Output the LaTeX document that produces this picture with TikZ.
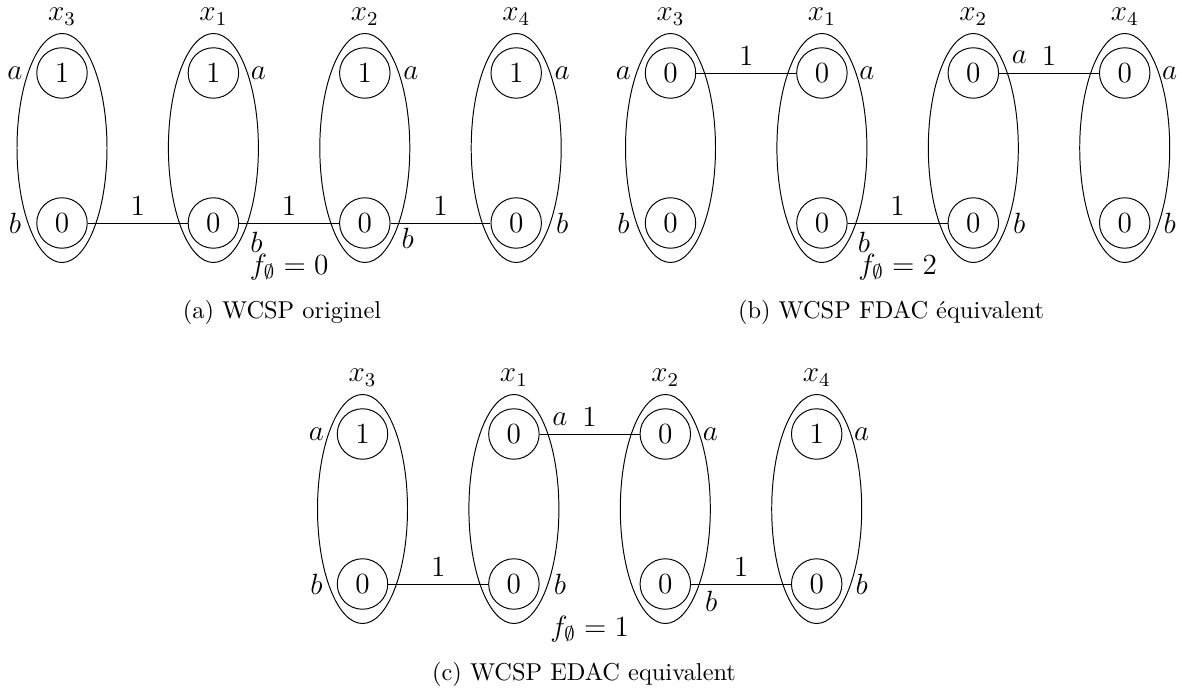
\documentclass[tikz,border=0pt]{standalone}
\usepackage{fontspec}
\usetikzlibrary{calc}
\usetikzlibrary{shapes.geometric}
\tikzset{
  dom/.style={draw, ellipse, minimum width=36.9pt, minimum height=93.9pt, inner sep=0pt},
  val/.style={draw, circle, minimum size=20.7pt, inner sep=0pt, font=\large},
  var/.style={above, font=\large, inner sep=3pt},
  lab/.style={font=\large, inner sep=0pt},
  cost/.style={above, font=\large, inner sep=3pt},
  subcap/.style={font=\normalsize}
}

\begin{document}
\begin{tikzpicture}[x=0.41pt, y=-0.41pt]
\useasboundingbox (0,0) rectangle (1182,691);
% (a) WCSP originel
\foreach \k/\n/\u/\v in {0/3/1/0, 1/1/1/0, 2/2/1/0, 3/4/1/0} {
 \node[dom] (a\n) at (62+151.4*\k, 148) {};
 \node[val] (a\n-t) at (62+151.4*\k, 73) {$\u$};
 \node[val] (a\n-b) at (62+151.4*\k, 223) {$\v$};
 \node[var] (a\n-x) at (a\n.north) {$x_\n$};
}
\node[lab] (la3a) at ($(a3-t)+(-47,0)$) {$a$};
\node[lab] (la3b) at ($(a3-b)+(-47,0)$) {$b$};
\node[lab] (la1a) at ($(a1-t)+(45,0)$) {$a$};
\node[lab] (la1b) at ($(a1-b)+(43,19)$) {$b$};
\node[lab] (la2a) at ($(a2-t)+(46,0)$) {$a$};
\node[lab] (la2b) at ($(a2-b)+(43,15)$) {$b$};
\node[lab] (la4a) at ($(a4-t)+(46,0)$) {$a$};
\node[lab] (la4b) at ($(a4-b)+(46,0)$) {$b$};
\draw (a3-b) -- node[cost] (ca31) {$1$} (a1-b);
\draw (a1-b) -- node[cost] (ca12) {$1$} (a2-b);
\draw (a2-b) -- node[cost] (ca24) {$1$} (a4-b);
\node[lab] (fa) at ($(a1-b)!0.5!(a2-b)+(0,44)$) {$f_\emptyset = 0$};
\node[subcap] (capa) at (282,312) {(a) WCSP originel};

% (b) WCSP FDAC
\foreach \k/\n/\u/\v in {0/3/0/0, 1/1/0/0, 2/2/0/0, 3/4/0/0} {
 \node[dom] (b\n) at (670.5+151.4*\k, 148) {};
 \node[val] (b\n-t) at (670.5+151.4*\k, 73) {$\u$};
 \node[val] (b\n-b) at (670.5+151.4*\k, 223) {$\v$};
 \node[var] (b\n-x) at (b\n.north) {$x_\n$};
}
\node[lab] (lb3a) at ($(b3-t)+(-47,0)$) {$a$};
\node[lab] (lb3b) at ($(b3-b)+(-47,0)$) {$b$};
\node[lab] (lb1a) at ($(b1-t)+(45,0)$) {$a$};
\node[lab] (lb1b) at ($(b1-b)+(42,19)$) {$b$};
\node[lab] (lb2a) at ($(b2-t)+(46,-16)$) {$a$};
\node[lab] (lb2b) at ($(b2-b)+(46,0)$) {$b$};
\node[lab] (lb4a) at ($(b4-t)+(45,0)$) {$a$};
\node[lab] (lb4b) at ($(b4-b)+(45,0)$) {$b$};
\draw (b3-t) -- node[cost] (cb31) {$1$} (b1-t);
\draw (b1-b) -- node[cost] (cb12) {$1$} (b2-b);
\draw (b2-t) -- node[cost] (cb24) {$1$} (b4-t);
\node[lab] (fb) at ($(b1-b)!0.5!(b2-b)+(0,44)$) {$f_\emptyset = 2$};
\node[subcap] (capb) at (891,312) {(b) WCSP FDAC équivalent};

% (c) WCSP EDAC
\foreach \k/\n/\u/\v in {0/3/1/0, 1/1/0/0, 2/2/0/0, 3/4/1/0} {
 \node[dom] (c\n) at (362.5+151.4*\k, 509) {};
 \node[val] (c\n-t) at (362.5+151.4*\k, 434) {$\u$};
 \node[val] (c\n-b) at (362.5+151.4*\k, 584) {$\v$};
 \node[var] (c\n-x) at (c\n.north) {$x_\n$};
}
\node[lab] (lc3a) at ($(c3-t)+(-46,0)$) {$a$};
\node[lab] (lc3b) at ($(c3-b)+(-46,0)$) {$b$};
\node[lab] (lc1a) at ($(c1-t)+(46,-15)$) {$a$};
\node[lab] (lc1b) at ($(c1-b)+(46,0)$) {$b$};
\node[lab] (lc2a) at ($(c2-t)+(45,0)$) {$a$};
\node[lab] (lc2b) at ($(c2-b)+(46,17)$) {$b$};
\node[lab] (lc4a) at ($(c4-t)+(45,0)$) {$a$};
\node[lab] (lc4b) at ($(c4-b)+(45,0)$) {$b$};
\draw (c3-b) -- node[cost] (cc31) {$1$} (c1-b);
\draw (c1-t) -- node[cost] (cc12) {$1$} (c2-t);
\draw (c2-b) -- node[cost] (cc24) {$1$} (c4-b);
\node[lab] (fc) at ($(c1-b)!0.5!(c2-b)+(0,45)$) {$f_\emptyset = 1$};
\node[subcap] (capc) at (584,674) {(c) WCSP EDAC equivalent};
\end{tikzpicture}
\end{document}
